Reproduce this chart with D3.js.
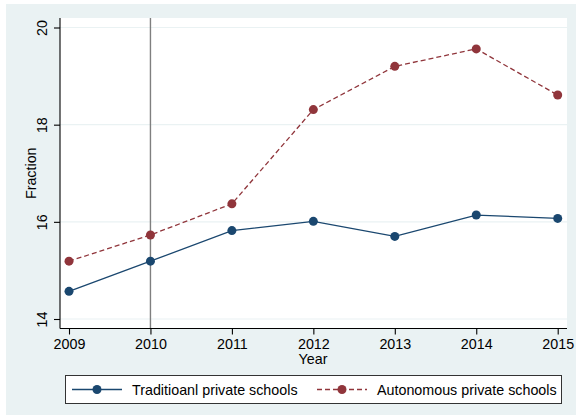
<!DOCTYPE html>
<html>
<head>
<meta charset="utf-8">
<script src="https://cdn.jsdelivr.net/npm/d3@7"></script>
<style>
  html, body { margin: 0; padding: 0; background: #ffffff; }
  svg { display: block; font-family: "Liberation Sans", Arial, Helvetica, sans-serif; }
</style>
</head>
<body>
<svg id="chart" width="576" height="418"></svg>
<script>
// Survey years and the two school-type series (fraction, in percent)
const years = [2009, 2010, 2011, 2012, 2013, 2014, 2015];
const traditional = [14.57, 15.19, 15.82, 16.01, 15.70, 16.14, 16.07];
const autonomous = [15.19, 15.73, 16.37, 18.31, 19.20, 19.56, 18.61];
const yTicks = [14, 16, 18, 20];
const referenceYear = 2010;
const seriesNames = ["Traditioanl private schools", "Autonomous private schools"];

const svg = d3.select("#chart");
const fontSize = 14.3;

// Graph region background
svg.append("rect")
  .attr("x", 6).attr("y", 4).attr("width", 570).attr("height", 411)
  .attr("fill", "#eaf2f3");

// Plot region
const plot = { left: 60, right: 567, top: 18, bottom: 328.5 };
svg.append("rect")
  .attr("x", plot.left).attr("y", plot.top)
  .attr("width", plot.right - plot.left).attr("height", plot.bottom - plot.top)
  .attr("fill", "#ffffff");

const x = d3.scaleLinear().domain([2009, 2015]).range([69, 557.7]);
const y = d3.scaleLinear().domain([14, 20]).range([319, 27.5]);

// Horizontal grid lines
svg.append("g").selectAll("line").data(yTicks).join("line")
  .attr("x1", plot.left).attr("x2", plot.right)
  .attr("y1", d => y(d)).attr("y2", d => y(d))
  .attr("stroke", "#eaf2f3").attr("stroke-width", 1.2);

// Reference line at 2010
svg.append("line")
  .attr("x1", x(referenceYear)).attr("x2", x(referenceYear))
  .attr("y1", plot.top).attr("y2", plot.bottom)
  .attr("stroke", "#7f7f7f").attr("stroke-width", 1.4);

// Y axis
const yAxis = svg.append("g")
  .attr("transform", `translate(${plot.left},0)`)
  .call(d3.axisLeft(y).tickValues(yTicks).tickSize(6).tickFormat(d3.format("d")));
yAxis.select(".domain").attr("d", `M0,${plot.top}V${plot.bottom}`).attr("stroke", "#000").attr("stroke-width", 1.1);
yAxis.selectAll(".tick line").attr("stroke", "#000").attr("stroke-width", 1.1);
yAxis.selectAll(".tick text")
  .attr("font-size", fontSize).attr("fill", "#000")
  .attr("x", 0).attr("y", 0)
  .attr("dx", null).attr("dy", null)
  .attr("text-anchor", "middle")
  .attr("transform", "translate(-13,0) rotate(-90)");

// X axis
const xAxis = svg.append("g")
  .attr("transform", `translate(0,${plot.bottom})`)
  .call(d3.axisBottom(x).tickValues(years).tickSize(6).tickPadding(4).tickFormat(d3.format("d")));
xAxis.select(".domain").attr("d", `M${plot.left},0H${plot.right}`).attr("stroke", "#000").attr("stroke-width", 1.1);
xAxis.selectAll(".tick line").attr("stroke", "#000").attr("stroke-width", 1.1);
xAxis.selectAll(".tick text").attr("font-size", fontSize).attr("fill", "#000");

// Axis titles
svg.append("text")
  .attr("x", 313).attr("y", 364)
  .attr("text-anchor", "middle").attr("font-size", fontSize).attr("fill", "#000")
  .text("Year");
svg.append("text")
  .attr("transform", `translate(36,${(plot.top + plot.bottom) / 2}) rotate(-90)`)
  .attr("text-anchor", "middle").attr("font-size", fontSize).attr("fill", "#000")
  .text("Fraction");

// Series
const blue = "#1a476f", red = "#90353b";
const line = d3.line().x((d, i) => x(years[i])).y(d => y(d));

svg.append("path").datum(autonomous)
  .attr("d", line).attr("fill", "none")
  .attr("stroke", red).attr("stroke-width", 1.3).attr("stroke-dasharray", "5,3");
svg.append("path").datum(traditional)
  .attr("d", line).attr("fill", "none")
  .attr("stroke", blue).attr("stroke-width", 1.3);

svg.append("g").selectAll("circle").data(autonomous).join("circle")
  .attr("cx", (d, i) => x(years[i])).attr("cy", d => y(d)).attr("r", 4.5).attr("fill", red);
svg.append("g").selectAll("circle").data(traditional).join("circle")
  .attr("cx", (d, i) => x(years[i])).attr("cy", d => y(d)).attr("r", 4.5).attr("fill", blue);

// Legend
const legend = svg.append("g");
legend.append("rect")
  .attr("x", 65.5).attr("y", 375.5).attr("width", 496).attr("height", 28)
  .attr("fill", "#ffffff").attr("stroke", "#333").attr("stroke-width", 1);

const legendItems = [
  { name: seriesNames[0], color: blue, dash: null, x0: 72 },
  { name: seriesNames[1], color: red, dash: "5,3", x0: 317 }
];
legendItems.forEach(it => {
  legend.append("line")
    .attr("x1", it.x0).attr("x2", it.x0 + 50).attr("y1", 389.5).attr("y2", 389.5)
    .attr("stroke", it.color).attr("stroke-width", 1.3)
    .attr("stroke-dasharray", it.dash);
  legend.append("circle")
    .attr("cx", it.x0 + 25).attr("cy", 389.5).attr("r", 4.5).attr("fill", it.color);
  legend.append("text")
    .attr("x", it.x0 + 60).attr("y", 394.5)
    .attr("font-size", fontSize).attr("fill", "#000")
    .text(it.name);
});
</script>
</body>
</html>
